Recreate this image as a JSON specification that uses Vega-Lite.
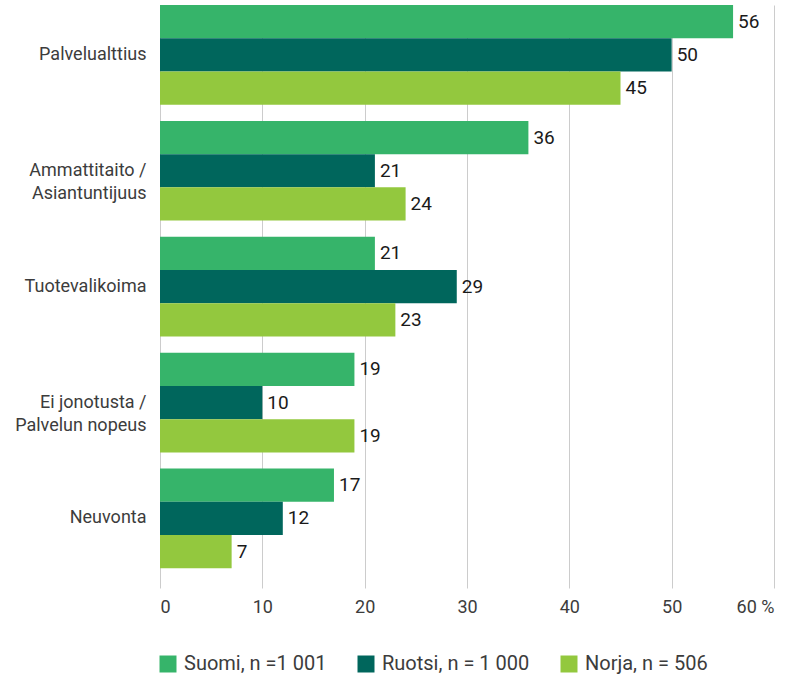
{
  "$schema": "https://vega.github.io/schema/vega-lite/v6.json",
  "width": 614,
  "height": 583,
  "autosize": {"type": "none"},
  "padding": {"left": 160, "top": 5, "right": 29, "bottom": 91},
  "config": {
    "font": "Roboto",
    "view": {"stroke": null},
    "axis": {"labelFont": "Roboto", "labelFontSize": 18, "labelColor": "#3c3c3c"}
  },
  "data": {
    "values": [
      {"kategoria": "Palvelualttius", "maa": "Suomi, n =1 001", "arvo": 56},
      {"kategoria": "Palvelualttius", "maa": "Ruotsi, n = 1 000", "arvo": 50},
      {"kategoria": "Palvelualttius", "maa": "Norja, n = 506", "arvo": 45},
      {"kategoria": "Ammattitaito / Asiantuntijuus", "maa": "Suomi, n =1 001", "arvo": 36},
      {"kategoria": "Ammattitaito / Asiantuntijuus", "maa": "Ruotsi, n = 1 000", "arvo": 21},
      {"kategoria": "Ammattitaito / Asiantuntijuus", "maa": "Norja, n = 506", "arvo": 24},
      {"kategoria": "Tuotevalikoima", "maa": "Suomi, n =1 001", "arvo": 21},
      {"kategoria": "Tuotevalikoima", "maa": "Ruotsi, n = 1 000", "arvo": 29},
      {"kategoria": "Tuotevalikoima", "maa": "Norja, n = 506", "arvo": 23},
      {"kategoria": "Ei jonotusta / Palvelun nopeus", "maa": "Suomi, n =1 001", "arvo": 19},
      {"kategoria": "Ei jonotusta / Palvelun nopeus", "maa": "Ruotsi, n = 1 000", "arvo": 10},
      {"kategoria": "Ei jonotusta / Palvelun nopeus", "maa": "Norja, n = 506", "arvo": 19},
      {"kategoria": "Neuvonta", "maa": "Suomi, n =1 001", "arvo": 17},
      {"kategoria": "Neuvonta", "maa": "Ruotsi, n = 1 000", "arvo": 12},
      {"kategoria": "Neuvonta", "maa": "Norja, n = 506", "arvo": 7}
    ]
  },
  "encoding": {
    "y": {
      "field": "kategoria",
      "type": "nominal",
      "sort": ["Palvelualttius", "Ammattitaito / Asiantuntijuus", "Tuotevalikoima", "Ei jonotusta / Palvelun nopeus", "Neuvonta"],
      "scale": {"paddingInner": 0.14, "paddingOuter": 0.085, "align": 0},
      "axis": {
        "title": null,
        "domain": false,
        "ticks": false,
        "labelPadding": 14,
        "labelLineHeight": 23,
        "labelExpr": "indexof(datum.value, ' / ') > 0 ? [split(datum.value, ' / ')[0] + ' /', split(datum.value, ' / ')[1]] : datum.value"
      }
    },
    "yOffset": {
      "field": "maa",
      "type": "nominal",
      "sort": ["Suomi, n =1 001", "Ruotsi, n = 1 000", "Norja, n = 506"],
      "scale": {"paddingInner": 0, "paddingOuter": 0}
    },
    "x": {
      "field": "arvo",
      "type": "quantitative",
      "scale": {"domain": [0, 60], "nice": false},
      "axis": {
        "title": null,
        "values": [0, 10, 20, 30, 40, 50, 60],
        "grid": true,
        "gridColor": "#cccccc",
        "gridWidth": 1,
        "domain": false,
        "ticks": false,
        "labelPadding": 10,
        "labelExpr": "datum.value == 60 ? '60 %' : datum.label"
      }
    }
  },
  "layer": [
    {
      "mark": {"type": "bar", "cornerRadius": 0},
      "encoding": {
        "color": {
          "field": "maa",
          "type": "nominal",
          "sort": ["Suomi, n =1 001", "Ruotsi, n = 1 000", "Norja, n = 506"],
          "scale": {"range": ["#36b46a", "#00665c", "#93c83e"]},
          "legend": {
            "title": null,
            "orient": "none",
            "direction": "horizontal",
            "legendX": -2,
            "legendY": 649,
            "symbolType": "square",
            "symbolSize": 289,
            "symbolStrokeWidth": 0,
            "symbolOpacity": 1,
            "labelFont": "Roboto",
            "labelFontSize": 20,
            "labelColor": "#3c3c3c",
            "labelOffset": 6,
            "columnPadding": 29
          }
        }
      }
    },
    {
      "mark": {"type": "text", "align": "left", "baseline": "middle", "dx": 5, "fontSize": 19, "font": "Roboto", "fontWeight": "normal", "color": "#1a1a1a"},
      "encoding": {"text": {"field": "arvo", "type": "quantitative"}}
    }
  ]
}
